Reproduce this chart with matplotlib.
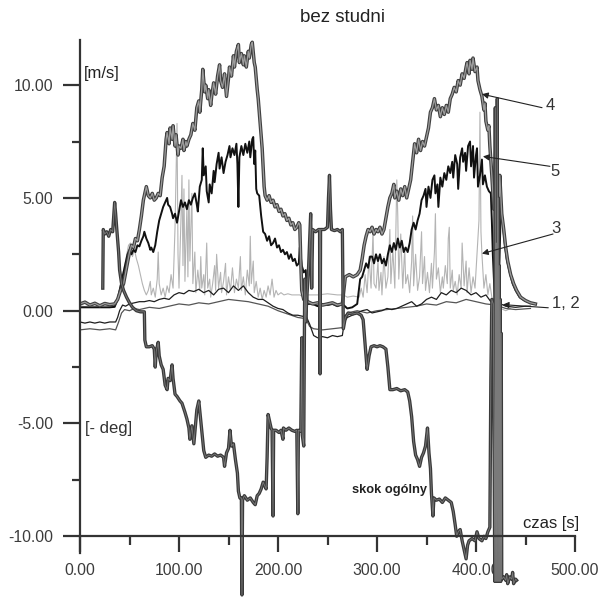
import numpy as np
import matplotlib
matplotlib.use('Agg')
import matplotlib.pyplot as plt
from matplotlib.ticker import FixedLocator, FormatStrFormatter

plt.rcParams['font.family'] = ['Liberation Sans', 'DejaVu Sans']
plt.rcParams['axes.unicode_minus'] = False

# (czas [s], wartosc)
s4 = [(0, 0.30), (5, 0.38), (10, 0.25), (15, 0.33), (20, 0.22), (25, 0.32), (30, 0.27), (35, 0.30),
      (38, 0.5), (41, 0.9), (44, 1.2), (47, 1.9), (50, 2.6), (52, 2.9), (54, 2.8), (56, 3.2), (58, 3.1),
      (60, 3.6), (62, 4.2), (64, 4.9), (66, 5.3), (67, 5.5), (69, 5.1), (71, 5.0), (73, 5.2), (75, 4.9),
      (77, 5.0), (79, 5.2), (81, 5.1), (83, 5.9), (85, 6.4), (86, 7.0), (87, 7.6), (88, 7.9), (90, 7.4),
      (91, 8.1), (93, 7.6), (94, 8.2), (96, 7.3), (97, 7.8), (99, 6.9), (100, 7.3), (102, 7.2), (104, 7.6),
      (105, 7.1), (107, 7.5), (108, 7.3), (110, 7.6), (112, 7.8), (114, 8.3), (116, 8.0), (118, 9.0),
      (120, 9.3), (121, 8.8), (123, 9.8), (124, 10.7), (126, 9.7), (127, 10.0), (129, 9.4), (130, 9.8),
      (132, 9.1), (133, 9.5), (135, 10.1), (137, 9.6), (139, 10.4), (141, 10.9), (142, 10.2), (144, 9.9),
      (146, 10.5), (148, 9.5), (150, 10.3), (151, 10.8), (153, 10.4), (155, 11.3), (156, 10.8), (158, 11.5),
      (160, 11.8), (161, 11.0), (163, 11.4), (165, 10.9), (166, 11.3), (168, 10.8), (170, 11.5), (171, 11.2),
      (173, 11.8), (174, 11.9), (176, 11.0), (177, 10.8), (179, 9.8), (180, 9.4), (182, 8.3), (184, 7.2),
      (185, 6.3), (186, 5.5), (187, 5.1), (189, 4.9), (191, 5.1), (193, 4.8), (195, 4.9), (197, 4.6),
      (199, 4.7), (201, 4.4), (203, 4.5), (205, 4.2), (207, 4.3), (209, 4.0), (211, 4.1), (213, 3.8),
      (215, 3.9), (217, 3.6), (219, 3.7), (221, 3.9), (222, 3.8), (223, 2.2), (224, 0.9), (226, 0.5),
      (230, 0.4), (235, 0.3), (240, 0.35), (245, 0.25), (250, 0.3), (255, 0.35), (260, 0.25), (265, 0.3),
      (268, 1.5), (272, 1.6), (276, 1.5), (280, 1.6), (283, 1.8), (285, 2.3), (287, 2.9), (289, 3.3),
      (291, 3.6), (293, 3.5), (295, 3.7), (297, 3.4), (299, 3.6), (301, 3.5), (303, 3.7), (305, 3.4),
      (307, 3.6), (309, 4.1), (311, 4.6), (313, 5.0), (315, 5.2), (317, 5.6), (318, 5.0), (320, 5.3),
      (322, 4.9), (324, 5.4), (326, 5.1), (328, 5.5), (330, 5.0), (332, 5.4), (334, 5.8), (336, 6.6),
      (338, 7.4), (340, 7.0), (342, 7.6), (344, 7.1), (346, 7.5), (348, 7.3), (350, 7.7), (352, 8.1),
      (354, 8.8), (356, 9.0), (358, 9.4), (360, 8.9), (362, 9.1), (364, 8.6), (366, 9.0), (368, 8.7),
      (370, 9.1), (372, 8.8), (374, 9.4), (376, 9.6), (378, 9.9), (380, 9.7), (382, 10.2), (384, 10.0),
      (386, 10.5), (388, 10.3), (390, 10.8), (391, 11.0), (393, 10.5), (394, 11.1), (396, 10.7), (397, 11.2),
      (399, 10.6), (401, 10.8), (402, 10.2), (404, 9.8), (406, 9.5), (408, 8.9), (409, 9.2), (410, 8.4),
      (412, 8.0), (413, 8.2), (414, 7.3), (416, 6.0), (418, 4.5), (420, 7.2), (422, 2.0), (424, 6.0),
      (426, 4.3), (428, 3.6), (430, 2.8), (432, 2.2), (435, 1.6), (438, 1.2), (441, 0.9), (445, 0.6),
      (450, 0.45), (455, 0.35), (460, 0.3)]

s5 = [(0, 0.15), (5, 0.15), (10, 0.15), (15, 0.15), (20, 0.15), (25, 0.15), (30, 0.15), (35, 0.17),
      (38, 0.5), (40, 0.9), (43, 1.5), (46, 2.1), (48, 2.5), (50, 2.7), (52, 2.5), (54, 2.7), (56, 2.6),
      (58, 2.9), (60, 2.85), (62, 3.1), (64, 3.3), (65, 3.5), (67, 3.2), (69, 3.0), (71, 2.7), (72, 2.8),
      (74, 2.6), (76, 2.9), (78, 3.5), (80, 4.0), (82, 4.3), (84, 4.6), (86, 4.8), (88, 5.0), (89, 4.7),
      (91, 4.6), (93, 4.3), (94, 4.1), (96, 4.3), (98, 3.9), (100, 4.4), (102, 4.9), (104, 4.6), (106, 4.8),
      (108, 4.5), (110, 4.9), (112, 4.7), (114, 5.0), (116, 5.2), (118, 4.7), (119, 4.4), (121, 5.5),
      (123, 5.8), (124, 7.2), (125, 6.0), (127, 6.4), (128, 5.3), (130, 4.8), (131, 5.6), (133, 5.2),
      (135, 6.2), (136, 5.7), (138, 6.5), (140, 7.0), (141, 6.3), (143, 6.8), (145, 6.1), (147, 6.6),
      (149, 6.9), (151, 7.3), (152, 6.8), (154, 7.2), (156, 6.9), (158, 7.4), (159, 6.5), (160, 4.6),
      (161, 6.8), (163, 7.3), (165, 6.9), (167, 7.4), (169, 7.0), (171, 7.5), (172, 6.8), (174, 7.6),
      (175, 7.7), (176, 6.5), (177, 7.1), (178, 5.4), (179, 5.2), (181, 5.1), (183, 4.2), (185, 3.5),
      (187, 3.4), (189, 3.1), (191, 3.3), (193, 2.9), (195, 3.0), (197, 3.2), (199, 2.8), (201, 2.9),
      (203, 2.6), (205, 2.7), (207, 2.5), (209, 2.6), (211, 2.3), (213, 2.5), (215, 2.2), (217, 2.3),
      (219, 2.0), (221, 2.1), (222, 2.8), (224, 2.0), (226, 1.7), (228, 1.8), (229, 1.0), (230, 0.3),
      (235, 0.3), (240, 0.2), (245, 0.3), (250, 0.25), (255, 0.3), (260, 0.2), (265, 0.3), (270, 0.1),
      (275, 0.15), (280, 0.3), (283, 1.4), (285, 1.5), (287, 1.8), (289, 2.1), (291, 1.9), (293, 2.4),
      (295, 2.4), (297, 2.1), (299, 2.5), (301, 2.2), (303, 2.5), (305, 2.1), (307, 2.3), (309, 2.0),
      (311, 2.5), (313, 2.9), (315, 2.6), (317, 3.0), (319, 2.7), (321, 3.2), (323, 2.8), (325, 3.1),
      (327, 2.6), (329, 2.8), (331, 2.6), (333, 3.0), (335, 3.6), (337, 3.9), (339, 3.6), (341, 4.0),
      (343, 4.3), (345, 4.9), (347, 5.1), (349, 5.4), (350, 4.6), (352, 5.5), (354, 5.0), (356, 5.8),
      (358, 6.0), (359, 5.2), (361, 5.6), (362, 4.6), (364, 5.9), (366, 5.5), (368, 6.1), (370, 5.8),
      (372, 6.4), (374, 6.1), (376, 6.6), (377, 5.9), (379, 6.9), (381, 6.5), (382, 5.4), (384, 6.8),
      (386, 7.2), (387, 6.6), (389, 7.0), (390, 6.2), (392, 7.3), (394, 7.5), (395, 6.4), (397, 7.3),
      (398, 5.9), (400, 6.9), (401, 7.2), (402, 5.5), (404, 6.0), (406, 6.7), (407, 5.6), (409, 6.0),
      (411, 5.5), (413, 5.3), (415, 5.2), (416, 4.0), (417, 2.5), (419, 0.5), (421, 5.0), (423, 1.0),
      (425, 4.5), (427, 3.9), (429, 3.0), (431, 2.3), (434, 1.7), (437, 1.2), (440, 0.9), (444, 0.6),
      (449, 0.45), (455, 0.35), (460, 0.3)]

s3 = [(0, 0.22), (5, 0.18), (10, 0.24), (15, 0.2), (20, 0.2), (25, 0.25), (30, 0.2), (35, 0.2),
      (38, 0.5), (42, 1.4), (46, 2.2), (49, 2.9), (51, 3.0), (53, 2.4), (55, 2.7), (57, 2.3), (59, 2.0),
      (61, 1.6), (63, 1.2), (65, 0.9), (67, 0.7), (69, 0.9), (71, 1.3), (72, 0.7), (74, 1.0), (76, 0.6),
      (78, 1.4), (79, 2.6), (80, 1.2), (82, 0.7), (84, 1.0), (86, 0.6), (88, 1.1), (90, 0.8), (92, 1.6),
      (94, 1.0), (96, 3.7), (98, 8.3), (99, 2.5), (100, 1.0), (102, 4.1), (103, 6.0), (104, 2.0),
      (105, 5.4), (106, 1.3), (108, 4.6), (109, 1.5), (110, 5.8), (111, 2.2), (113, 5.2), (114, 1.2),
      (116, 2.6), (117, 0.8), (119, 1.8), (121, 0.9), (122, 2.4), (123, 1.0), (125, 1.6), (126, 0.7),
      (128, 3.0), (129, 1.0), (131, 1.4), (132, 0.6), (134, 1.2), (136, 2.0), (137, 0.9), (138, 2.5),
      (140, 1.0), (142, 1.7), (143, 0.8), (145, 1.3), (147, 2.1), (148, 0.7), (150, 1.5), (152, 0.9),
      (154, 1.9), (156, 0.8), (158, 1.4), (160, 1.0), (162, 2.4), (163, 0.9), (165, 1.5), (167, 0.7),
      (169, 1.8), (171, 1.1), (172, 3.3), (173, 1.2), (175, 2.2), (176, 0.8), (178, 1.3), (180, 0.6),
      (182, 1.0), (184, 0.5), (186, 0.9), (188, 0.6), (190, 1.1), (192, 0.7), (194, 1.4), (196, 0.6),
      (198, 0.9), (200, 0.7), (203, 0.8), (206, 0.7), (210, 0.75), (214, 0.7), (218, 0.7), (222, 0.7),
      (226, 0.6), (230, 0.7), (240, 0.7), (250, 0.75), (260, 0.7), (266, 0.7), (270, 0.6), (276, 0.65),
      (282, 0.6), (284, 1.0), (286, 0.6), (288, 1.6), (290, 0.8), (292, 2.4), (294, 1.0), (296, 3.5),
      (297, 1.2), (299, 1.0), (301, 2.2), (302, 0.9), (304, 1.7), (305, 0.7), (307, 2.4), (309, 1.0),
      (311, 1.5), (313, 3.6), (314, 1.2), (316, 2.7), (318, 1.0), (320, 5.8), (321, 4.2), (322, 1.4),
      (324, 3.4), (326, 1.0), (328, 2.8), (329, 1.2), (331, 1.6), (333, 0.8), (335, 2.2), (336, 4.2),
      (337, 1.1), (339, 2.5), (341, 0.9), (343, 1.5), (345, 3.5), (346, 1.2), (348, 2.4), (349, 0.9),
      (351, 1.7), (353, 0.8), (355, 2.1), (356, 1.0), (358, 2.6), (359, 4.3), (360, 1.4), (362, 1.9),
      (364, 0.8), (366, 1.5), (367, 1.0), (369, 2.0), (371, 1.2), (372, 3.2), (373, 3.7), (374, 1.0),
      (376, 1.8), (377, 0.9), (379, 1.3), (381, 0.7), (383, 1.6), (385, 1.0), (386, 3.0), (388, 1.1),
      (390, 2.2), (391, 0.8), (393, 1.9), (395, 0.8), (397, 1.5), (399, 1.0), (401, 2.5), (403, 4.0),
      (404, 8.8), (405, 3.5), (406, 2.5), (408, 1.0), (410, 1.6), (412, 0.7), (414, 1.2), (416, 0.6),
      (418, 0.4), (420, 1.0), (422, 0.3), (425, 0.1), (430, 0.0), (435, 0.1)]

s1 = [(0, -0.5), (5, -0.55), (10, -0.5), (15, -0.55), (20, -0.5), (25, -0.55), (30, -0.5), (36, -0.5),
      (38, -0.3), (40, 0.0), (43, 0.25), (46, 0.2), (50, 0.3), (55, 0.35), (60, 0.4), (65, 0.4), (70, 0.45),
      (75, 0.4), (80, 0.5), (85, 0.55), (90, 0.5), (95, 0.7), (100, 0.8), (105, 0.75), (110, 0.9),
      (115, 0.85), (120, 0.95), (125, 0.8), (130, 0.9), (135, 0.7), (140, 0.95), (145, 1.0), (150, 0.8),
      (155, 1.1), (160, 0.9), (165, 1.1), (170, 0.8), (175, 0.6), (180, 0.5), (185, 0.5), (190, 0.35),
      (195, 0.2), (200, 0.1), (205, 0.05), (210, -0.1), (215, -0.2), (220, -0.2), (225, -0.25),
      (228, -0.2), (232, -0.6), (236, -1.1), (240, -1.2), (245, -1.15), (250, -1.2), (255, -1.1),
      (260, -1.15), (265, -1.1), (267, -0.5), (270, -0.3), (275, -0.2), (280, -0.1), (285, 0.0),
      (290, 0.05), (295, -0.1), (300, -0.05), (305, 0.0), (310, 0.1), (315, 0.05), (320, 0.1), (325, 0.2),
      (330, 0.3), (335, 0.4), (340, 0.2), (345, 0.3), (350, 0.5), (355, 0.6), (360, 0.5), (365, 0.8),
      (370, 0.7), (375, 0.9), (380, 0.8), (385, 1.0), (390, 0.9), (395, 0.7), (400, 0.8), (405, 0.6),
      (410, 0.7), (415, 0.4), (420, 0.5), (425, 0.3), (430, 0.2), (440, 0.15), (450, 0.2), (455, 0.2)]

s2 = [(0, -0.85), (10, -0.8), (20, -0.85), (30, -0.8), (36, -0.85), (39, -0.5), (42, -0.1), (45, 0.05),
      (50, 0.0), (55, 0.1), (60, 0.05), (65, 0.1), (70, 0.15), (80, 0.1), (90, 0.2), (100, 0.3),
      (110, 0.25), (120, 0.35), (130, 0.3), (140, 0.4), (150, 0.5), (160, 0.45), (170, 0.4), (180, 0.3),
      (190, 0.2), (200, 0.0), (210, -0.15), (220, -0.3), (228, -0.35), (232, -0.7), (236, -0.8),
      (245, -0.85), (255, -0.8), (265, -0.75), (267, -0.3), (270, -0.1), (280, 0.0), (290, -0.1),
      (300, 0.0), (310, 0.05), (320, 0.1), (330, 0.15), (340, 0.2), (350, 0.3), (360, 0.25), (370, 0.4),
      (380, 0.35), (390, 0.5), (400, 0.4), (410, 0.3), (420, 0.25), (430, 0.1), (440, 0.05), (455, 0.1)]

skok = [(23, 1.0), (23.5, 3.6), (25, 3.4), (27, 3.5), (29, 3.3), (31, 3.6), (33, 3.5), (35, 4.8),
        (36, 4.3), (37, 3.7), (39, 2.6), (40, 1.8), (42, 1.2), (44, 0.9), (47, 0.6), (50, 0.35), (53, 0.15),
        (57, 0.0), (61, -0.05), (65, -0.05), (65.5, -1.3), (67, -1.6), (70, -1.6), (73, -1.55), (75, -1.7),
        (76, -2.5), (77, -1.8), (79, -1.4), (80, -2.0), (82, -2.4), (84, -2.6), (86, -3.3), (88, -3.5),
        (89, -3.0), (91, -3.1), (93, -2.4), (94, -3.0), (96, -3.7), (98, -3.8), (101, -4.0), (103, -4.1),
        (106, -4.5), (108, -4.8), (110, -5.2), (111, -5.7), (113, -5.1), (115, -5.9), (116, -5.4),
        (118, -4.4), (120, -4.0), (122, -4.9), (123, -5.4), (125, -6.2), (127, -6.5), (130, -6.4),
        (133, -6.45), (136, -6.35), (139, -6.45), (142, -6.4), (145, -6.5), (146, -6.9), (148, -6.3),
        (150, -6.1), (151.5, -5.3), (153, -6.0), (155, -5.9), (157, -6.6), (159, -7.2), (160, -8.0),
        (161.5, -8.3), (163, -8.3), (163.6, -12.6), (164.2, -8.4), (166, -8.2), (169, -8.4), (172, -8.3),
        (175, -8.5), (177, -8.6), (179, -8.2), (181, -8.1), (183, -7.9), (185, -7.6), (187, -7.8),
        (188, -7.9), (189, -6.5), (190, -4.6), (191, -4.8), (193, -5.2), (194, -5.3), (195, -9.1),
        (195.6, -5.3), (198, -5.3), (201, -5.4), (203, -5.3), (205, -5.7), (205.5, -5.2), (208, -5.3),
        (211, -5.2), (214, -5.3), (217, -5.35), (219, -5.3), (220, -9.0), (220.6, -5.3), (223, -5.35),
        (224, -1.2), (224.5, -5.5), (226, -6.0), (227, 1.4), (228, -0.5), (229, 0.5), (231, 2.0),
        (233, 4.3), (234, 1.0), (235, 3.6), (238, 3.5), (241, 3.6), (242, 3.6), (242.5, -2.8), (243, 3.6),
        (247, 3.6), (250, 3.7), (251, 5.0), (252, 6.0), (253, 4.5), (254, 3.6), (257, 3.55), (260, 3.6),
        (263, 3.5), (265, 3.6), (266, -0.8), (268, -0.3), (271, -0.1), (275, -0.15), (280, -0.1),
        (284, -0.2), (286, -0.4), (288, -1.5), (290, -2.6), (292, -2.0), (294, -1.6), (297, -1.55),
        (300, -1.6), (303, -1.55), (306, -1.6), (309, -1.7), (311, -2.5), (313, -3.5), (316, -3.5),
        (320, -3.45), (324, -3.55), (328, -3.5), (331, -3.6), (333, -4.0), (335, -4.7), (337, -5.8),
        (339, -6.4), (341, -6.6), (343, -6.9), (345, -6.5), (347, -6.3), (349, -6.0), (351, -5.2),
        (352.5, -6.3), (354, -7.0), (355, -8.1), (356.5, -9.1), (357.5, -8.3), (360, -8.4), (363, -8.35),
        (366, -8.5), (369, -8.3), (372, -8.4), (375, -8.5), (377, -8.9), (379, -9.5), (380.5, -10.0),
        (382, -9.8), (384, -9.7), (386, -10.2), (388, -10.6), (390, -11.0), (391.5, -10.4), (393, -10.2),
        (396, -10.1), (399, -10.2), (401, -9.8), (403, -10.1), (406, -10.2), (408, -10.0), (410, -10.1),
        (412, -9.8), (414, -9.6), (415, -3.0), (416, 0.5), (417.5, 0.3), (419, -12.0), (419.5, 9.0),
        (420, -12.0), (420.5, 3.0), (421, -12.0), (421.5, 9.4), (422, -12.0), (422.5, 5.0), (423, -12.0),
        (423.5, 2.0), (424, -12.0), (424.5, 0.5), (425, -12.0), (425.5, -1.0), (426, -11.9), (428, -11.8),
        (430, -11.95), (431, -11.7), (432, -12.1), (434, -11.8), (436, -11.9), (437, -11.6), (438, -12.1),
        (440, -11.9), (441, -11.95)]

x_ticks = [0, 100, 200, 300, 400, 500]
x_minor = [50, 150, 250, 350, 450]
y_ticks = [-10, -5, 0, 5, 10]
y_minor = [-7.5, -2.5, 2.5, 7.5]


def xy(pts):
    a = np.array(pts, dtype=float)
    return a[:, 0], a[:, 1]


fig = plt.figure(figsize=(6.01, 6.0), dpi=100)
ax = fig.add_axes([80 / 601, 1 / 600, 495 / 601, 559 / 600])
ax.set_xlim(0, 500)
ax.set_ylim(-12.78, 12.0)

t, v = xy(s3)
ax.plot(t, v, color='#b4b4b4', lw=0.8)
t, v = xy(s2)
ax.plot(t, v, color='#555555', lw=0.9)
t, v = xy(s1)
ax.plot(t, v, color='#1e1e1e', lw=0.9)
t, v = xy(s5)
ax.plot(t, v, color='#111111', lw=1.4)
t, v = xy(s4)
ax.plot(t, v, color='#404040', lw=2.5)
ax.plot(t, v, color='#9c9c9c', lw=0.9)
t, v = xy(skok)
ax.plot(t, v, color='#3a3a3a', lw=2.4)
ax.plot(t, v, color='#7a7a7a', lw=0.6)

for s in ['top', 'right']:
    ax.spines[s].set_visible(False)
ax.spines['bottom'].set_position(('data', -10))
ax.spines['left'].set_bounds(-10.72, 12.0)
for s in ['left', 'bottom']:
    ax.spines[s].set_linewidth(1.6)
    ax.spines[s].set_color('#333333')

ax.set_xticks(x_ticks)
ax.set_yticks(y_ticks)
ax.xaxis.set_minor_locator(FixedLocator(x_minor))
ax.yaxis.set_minor_locator(FixedLocator(y_minor))
ax.xaxis.set_major_formatter(FormatStrFormatter('%.2f'))
ax.yaxis.set_major_formatter(FormatStrFormatter('%.2f'))
ax.tick_params(axis='x', which='major', length=11.5, width=1.6, pad=8, color='#333333',
               labelsize=11.3, labelcolor='#3c3c3c')
ax.tick_params(axis='x', which='minor', length=6.5, width=1.6, color='#333333')
ax.tick_params(axis='y', which='major', length=12.2, width=1.6, pad=7, color='#333333',
               labelsize=11.3, labelcolor='#3c3c3c')
ax.tick_params(axis='y', which='minor', length=5.8, width=1.6, color='#333333')

fig.text(342 / 601, 1 - 17 / 600, 'bez studni', ha='center', va='center', fontsize=13.5, color='#222222')
ax.text(4, 10.5, '[m/s]', ha='left', va='center', fontsize=12, color='#222222')
ax.text(5, -5.2, '[- deg]', ha='left', va='center', fontsize=12, color='#333333')
ax.text(447.5, -9.42, 'czas [s]', ha='left', va='center', fontsize=12, color='#222222')
ax.text(274.7, -7.96, 'skok ogólny', ha='left', va='center', fontsize=9.3, fontweight='bold', color='#222222')

arr = dict(arrowstyle='-|>', color='#222222', lw=0.8, mutation_scale=9, shrinkA=0, shrinkB=0)
ax.annotate('', xy=(406, 9.6), xytext=(466.7, 9.0), arrowprops=arr)
ax.annotate('', xy=(407, 6.84), xytext=(474.7, 6.4), arrowprops=arr)
ax.annotate('', xy=(406, 2.53), xytext=(477.8, 3.4), arrowprops=arr)
ax.annotate('', xy=(427, 0.27), xytext=(473, 0.13), arrowprops=arr)
ax.text(470.5, 9.1, '4', ha='left', va='center', fontsize=12, color='#333333')
ax.text(475.5, 6.15, '5', ha='left', va='center', fontsize=12, color='#333333')
ax.text(476.5, 3.65, '3', ha='left', va='center', fontsize=12, color='#333333')
ax.text(476.8, 0.3, '1, 2', ha='left', va='center', fontsize=12, color='#333333')

fig.savefig('out.png', dpi=100)
